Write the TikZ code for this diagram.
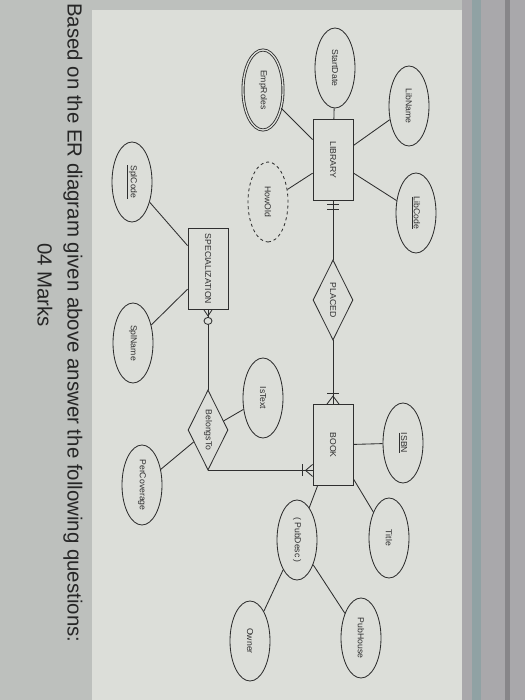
\documentclass[tikz,border=0pt]{standalone}
\usepackage{fontspec}
\setmainfont{Liberation Sans}
\usetikzlibrary{shapes.geometric}

\definecolor{paper}{HTML}{DCDED9}
\definecolor{desk}{HTML}{BDC0BD}
\definecolor{screen}{HTML}{A9A8AB}
\definecolor{ink}{HTML}{2F2F2F}

\begin{document}
\begin{tikzpicture}[x=1bp,y=-1bp,
    every node/.style={font=\fontsize{8.7}{10}\selectfont, text=ink, rotate=-90, inner sep=0pt},
    entity/.style={draw=ink, line width=0.85bp, rectangle, minimum width=81bp, minimum height=40bp},
    relation/.style={draw=ink, line width=0.85bp, diamond, aspect=2, minimum width=80bp, minimum height=40bp},
    attr/.style={draw=ink, line width=0.85bp, ellipse, minimum width=80bp, minimum height=40bp},
    link/.style={draw=ink, line width=0.85bp}]
    \useasboundingbox (0,0) rectangle (525,700);

    % Background (photo of the sheet)
    \fill[desk] (0,0) rectangle (525,700);
    \fill[paper] (92,10) rectangle (462,700);
    \fill[screen] (462,0) rectangle (525,700);
    \fill[screen!85!teal] (472,0) rectangle (481,700);
    \fill[screen!80!black] (505,0) rectangle (510,700);

    % Entities
    \node[entity] (lib) at (333,160) {LIBRARY};
    \node[entity] (book) at (333,445) {BOOK};
    \node[entity] (spec) at (208,269) {SPECIALIZATION};

    % Relationships
    \node[relation] (placed) at (333,300) {PLACED};
    \node[relation] (bt) at (208,430) {BelongsTo};

    % Attributes of LIBRARY
    \node[attr] (libname) at (409,106) {LibName};
    \node[attr] (startdate) at (335,68) {StartDate};
    \node[attr, double=paper, double distance=1.3bp] (emproles) at (263,90) {EmpRoles};
    \node[attr] (libcode) at (416,213) {\underline{LibCode}};
    \node[attr, dashed] (howold) at (268,202) {HowOld};

    % Attributes of SPECIALIZATION and BelongsTo
    \node[attr] (splcode) at (132,182) {\underline{SplCode}};
    \node[attr] (splname) at (133,343) {SplName};
    \node[attr] (istext) at (263,398) {IsText};
    \node[attr] (percov) at (142,485) {PerCoverage};

    % Attributes of BOOK
    \node[attr] (isbn) at (403,443) {\underline{ISBN}};
    \node[attr] (title) at (389,538) {Title};
    \node[attr] (pubdesc) at (297,540) {( PubDesc )};
    \node[attr] (pubhouse) at (361,638) {PubHouse};
    \node[attr] (owner) at (250,641) {Owner};

    % Attribute links
    \foreach \a in {libname,startdate,emproles,libcode,howold}
        \draw[link] (lib) -- (\a);
    \draw[link] (spec) -- (splcode);
    \draw[link] (spec) -- (splname);
    \draw[link] (bt) -- (istext);
    \draw[link] (bt) -- (percov);
    \foreach \a in {isbn,title,pubdesc}
        \draw[link] (book) -- (\a);
    \draw[link] (pubdesc) -- (pubhouse);
    \draw[link] (pubdesc) -- (owner);

    % LIBRARY -- PLACED -- BOOK
    \draw[link] (lib) -- (placed);
    \draw[link] (placed) -- (book);
    \draw[link] (lib.east) ++(-6,3) -- ++(12,0) ++(-12,5) -- ++(12,0); % one and only one
    \draw[link] (book.west) ++(-6,0) -- ++(6,-8) -- ++(6,8); % many
    \draw[link] (book.west) ++(-6,-11) -- ++(12,0);

    % SPECIALIZATION -- BelongsTo -- BOOK
    \draw[link] (spec) -- (bt);
    \draw[link] (spec.east) ++(-4,0) -- ++(4,6) -- ++(4,-6);
    \draw[link, fill=paper] (spec.east) ++(0,11) circle[x radius=4bp, y radius=3.5bp];
    \coordinate (btbook) at (bt.east -| book.south);
    \draw[link] (bt.east) -- (btbook);
    \draw[link] (btbook) ++(0,-6) -- ++(-7,6) -- ++(7,6);
    \draw[link] (btbook) ++(-10,-6) -- ++(0,12);

    % Question text
    \node[font=\fontsize{20.5}{24}\selectfont, text=black!85, anchor=west] (question) at (73,3)
        {Based on the ER diagram given above answer the following questions:};
    \node[font=\fontsize{20.5}{24}\selectfont, text=black!85] (marks) at (45,285) {04 Marks};
\end{tikzpicture}
\end{document}
